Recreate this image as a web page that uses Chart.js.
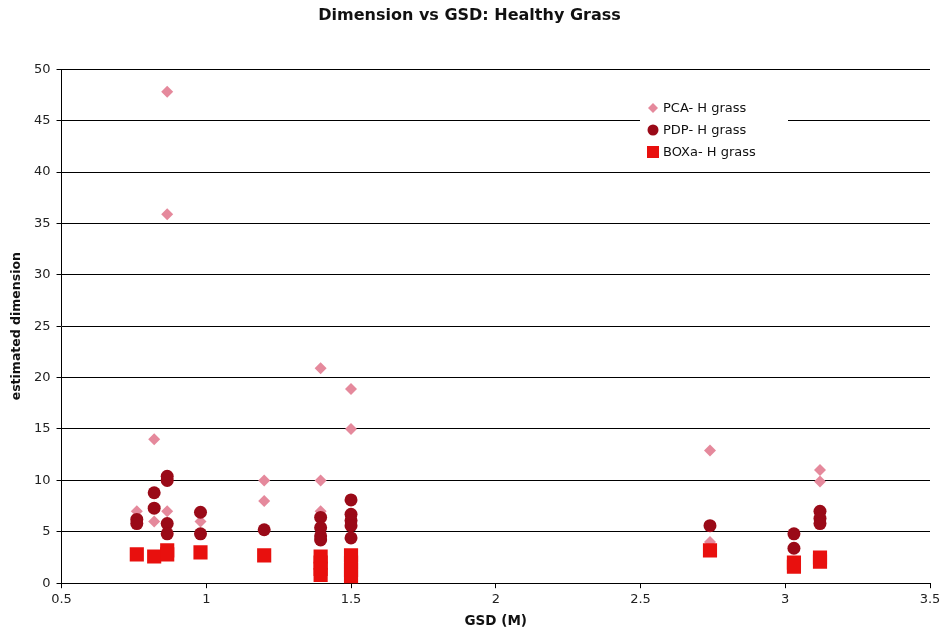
<!DOCTYPE html>
<html><head><meta charset="utf-8">
<script src="https://cdn.jsdelivr.net/npm/chart.js@4/dist/chart.umd.min.js"></script>
<style>html,body{margin:0;padding:0;background:#fff}#wrap{position:relative;width:946px;height:638px}</style>
</head><body><div id="wrap"><canvas id="c" width="946" height="638"></canvas></div>
<script>
const seriesNames = ["PCA- H grass", "PDP- H grass", "BOXa- H grass"];
const xTicks = [0.5, 1, 1.5, 2, 2.5, 3, 3.5];
const yTicks = [0, 5, 10, 15, 20, 25, 30, 35, 40, 45, 50];
const pcaX = [0.76, 0.82, 0.82, 0.865, 0.865, 0.865, 0.98, 1.2, 1.2, 1.395, 1.395, 1.395, 1.5, 1.5, 2.74, 2.74, 3.12, 3.12];
const pcaY = [7.0, 14.0, 6.0, 47.8, 35.9, 7.0, 6.0, 10.0, 8.0, 20.9, 10.0, 7.0, 18.9, 15.0, 12.9, 4.0, 11.0, 9.9];
const pdpX = [0.76, 0.76, 0.82, 0.82, 0.865, 0.865, 0.865, 0.865, 0.98, 0.98, 1.2, 1.395, 1.395, 1.395, 1.395, 1.5, 1.5, 1.5, 1.5, 1.5, 2.74, 3.03, 3.03, 3.12, 3.12, 3.12];
const pdpY = [6.2, 5.8, 8.8, 7.3, 10.4, 10.0, 5.8, 4.8, 6.9, 4.8, 5.2, 6.4, 5.4, 4.6, 4.2, 8.1, 6.7, 6.1, 5.6, 4.4, 5.6, 4.8, 3.4, 7.0, 6.3, 5.8];
const boxX = [0.76, 0.82, 0.865, 0.865, 0.98, 1.2, 1.395, 1.395, 1.395, 1.395, 1.5, 1.5, 1.5, 1.5, 2.74, 3.03, 3.03, 3.12, 3.12];
const boxY = [2.8, 2.6, 3.2, 2.8, 3.0, 2.7, 2.6, 2.0, 1.4, 0.8, 2.7, 2.0, 1.3, 0.6, 3.2, 2.0, 1.6, 2.5, 2.1];

const colors = ["#E5899C", "#9A0A18", "#E8100E"];
const styles = ["rectRot", "circle", "rect"];
const radii = [6, 6.5, 10];
const toPts = (xs, ys) => xs.map((x, i) => ({x: x, y: ys[i]}));
const allPts = [toPts(pcaX, pcaY), toPts(pdpX, pdpY), toPts(boxX, boxY)];

const legendPlugin = {
  id: 'inlegend',
  afterDatasetsDraw(chart) {
    const ctx = chart.ctx;
    ctx.save();
    ctx.fillStyle = '#fff';
    ctx.fillRect(640, 96, 148, 70);
    ctx.font = '13px "DejaVu Sans", Verdana, sans-serif';
    ctx.textBaseline = 'middle';
    const rows = [108, 130, 152];
    seriesNames.forEach((n, i) => {
      ctx.fillStyle = colors[i];
      ctx.beginPath();
      if (i === 0) { ctx.moveTo(653, rows[i]-5); ctx.lineTo(658, rows[i]); ctx.lineTo(653, rows[i]+5); ctx.lineTo(648, rows[i]); }
      else if (i === 1) { ctx.arc(653, rows[i], 5.5, 0, Math.PI*2); }
      else { ctx.rect(647, rows[i]-6, 12, 12); }
      ctx.fill();
      ctx.fillStyle = '#111';
      ctx.fillText(n, 663, rows[i] + 1);
    });
    ctx.restore();
  }
};

new Chart(document.getElementById('c'), {
  type: 'scatter',
  data: {
    datasets: allPts.map((d, i) => ({
      label: seriesNames[i], data: d,
      pointStyle: styles[i], pointRadius: radii[i], pointHoverRadius: radii[i],
      backgroundColor: colors[i], borderColor: colors[i], borderWidth: 0,
      order: 3 - i
    }))
  },
  options: {
    responsive: false, animation: false,
    layout: {padding: {top: 0, right: 16, left: 9, bottom: 8}},
    plugins: {
      legend: {display: false}, tooltip: {enabled: false},
      title: {display: true, text: 'Dimension vs GSD: Healthy Grass', color: '#111',
        font: {family: '"DejaVu Sans", sans-serif', size: 16, weight: 'bold'},
        padding: {top: 6, bottom: 44}}
    },
    scales: {
      x: {
        type: 'linear', min: 0.5, max: 3.5,
        afterBuildTicks: (ax) => { ax.ticks = xTicks.map(v => ({value: v})); },
        ticks: {color: '#222', font: {family: '"DejaVu Sans", sans-serif', size: 13}, padding: 4, maxRotation: 0,
          callback: (v) => String(v)},
        grid: {display: true, drawOnChartArea: false, drawTicks: true, tickLength: 5, color: '#000'},
        border: {color: '#000', width: 1},
        title: {display: true, text: 'GSD (M)', color: '#111',
          font: {family: '"DejaVu Sans", sans-serif', size: 13.5, weight: 'bold'}, padding: {top: 2, bottom: 0}}
      },
      y: {
        min: 0, max: 50,
        afterBuildTicks: (ax) => { ax.ticks = yTicks.map(v => ({value: v})); },
        ticks: {color: '#222', font: {family: '"DejaVu Sans", sans-serif', size: 13}, padding: 6},
        grid: {color: '#000', lineWidth: 1, drawTicks: true, tickLength: 5},
        border: {color: '#000', width: 1},
        title: {display: true, text: 'estimated dimension', color: '#111',
          font: {family: '"DejaVu Sans", sans-serif', size: 12.5, weight: 'bold'}, padding: {top: 0, bottom: 4}}
      }
    }
  },
  plugins: [legendPlugin]
});
</script></body></html>
